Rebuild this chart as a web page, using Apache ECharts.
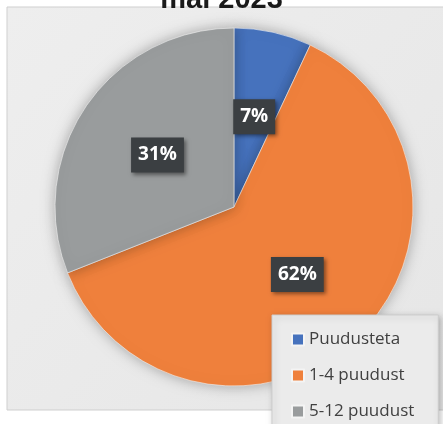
<!DOCTYPE html>
<html>
<head>
<meta charset="utf-8">
<script src="https://cdn.jsdelivr.net/npm/echarts@6/dist/echarts.min.js"></script>
<style>
  html, body { margin: 0; padding: 0; background: #fff; }
  #main { width: 443px; height: 424px; }
</style>
</head>
<body>
<div id="main"></div>
<script>
const titleText = 'mai 2023';
const categories = ['Puudusteta', '1-4 puudust', '5-12 puudust'];
const shares = [7, 62, 31];
const colors = ['#4672bd', '#ef803c', '#999c9d'];

const chart = echarts.init(document.getElementById('main'));

const option = {
  backgroundColor: '#ffffff',
  animation: false,
  title: {
    text: titleText,
    left: 'center',
    top: -20,
    textStyle: { fontSize: 29, fontWeight: 'bold', color: '#1a1a1a', fontFamily: 'Liberation Sans' }
  },
  graphic: [
    {
      type: 'rect',
      z: -10,
      shape: { x: 7, y: 7, width: 440, height: 403 },
      style: {
        fill: new echarts.graphic.LinearGradient(0, 0, 1, 1, [
          { offset: 0, color: '#eeeeee' },
          { offset: 1, color: '#e6e6e6' }
        ]),
        stroke: '#cfcfcf',
        lineWidth: 1
      }
    }
  ],
  legend: {
    orient: 'vertical',
    left: 272,
    top: 315,
    height: 150,
    padding: [16, 24, 20, 19],
    itemWidth: 12,
    itemHeight: 12,
    itemGap: 19,
    icon: 'rect',
    backgroundColor: '#ebebeb',
    borderColor: '#cdcdcd',
    borderWidth: 1,
    shadowColor: 'rgba(0,0,0,0.25)',
    shadowBlur: 6,
    shadowOffsetX: 2,
    shadowOffsetY: 2,
    textStyle: { fontSize: 17, color: '#404040', fontFamily: 'Open Sans' },
    data: categories
  },
  series: [
    {
      type: 'pie',
      center: [234, 207],
      radius: 179,
      startAngle: 90,
      clockwise: true,
      itemStyle: {
        borderColor: '#f4f4f4',
        borderWidth: 0.6,
        shadowColor: 'rgba(0,0,0,0.3)',
        shadowBlur: 14
      },
      label: {
        show: true,
        position: 'inside',
        formatter: '{c}%',
        color: '#ffffff',
        fontSize: 19,
        fontWeight: 'bold',
        fontFamily: 'Open Sans',
        backgroundColor: '#3b3f42',
        padding: [8, 7, 8, 7],
        shadowColor: 'rgba(0,0,0,0.45)',
        shadowBlur: 4,
        shadowOffsetX: 2,
        shadowOffsetY: 2
      },
      labelLine: { show: false },
      emphasis: { disabled: true },
      data: categories.map((name, i) => ({
        name: name,
        value: shares[i],
        itemStyle: { color: colors[i] }
      }))
    }
  ]
};

chart.setOption(option);
</script>
</body>
</html>
